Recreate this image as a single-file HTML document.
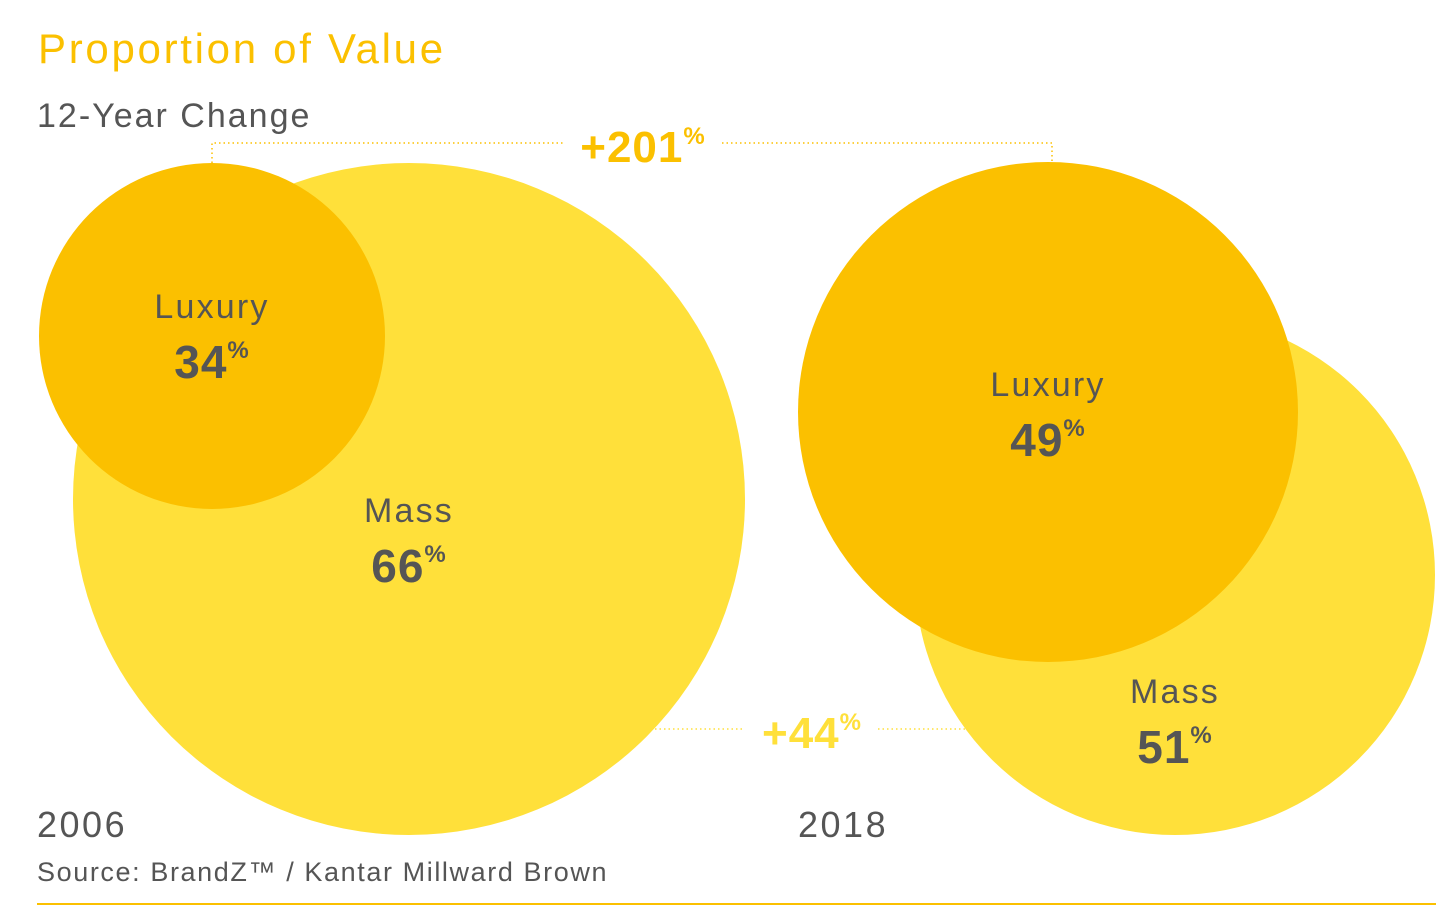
<!DOCTYPE html>
<html><head><meta charset="utf-8">
<style>
html,body{margin:0;padding:0;background:#fff;}
body{width:1436px;height:905px;overflow:hidden;position:relative;font-family:"Liberation Sans",sans-serif;}
svg{position:absolute;left:0;top:0;}
</style></head>
<body>
<svg id="chart" width="1436" height="905">
  <text x="38" y="63" font-size="42" letter-spacing="2.7" fill="#FBC000">Proportion of Value</text>
  <text x="37" y="127" font-size="34" letter-spacing="2" fill="#555">12-Year Change</text>
  <text x="37" y="837" font-size="36" letter-spacing="2.5" fill="#555">2006</text>
  <text x="798" y="837" font-size="36" letter-spacing="2.5" fill="#555">2018</text>
  <text x="37" y="881" font-size="27" letter-spacing="1.6" fill="#555">Source: BrandZ™ / Kantar Millward Brown</text>
  <line x1="37" y1="904" x2="1436" y2="904" stroke="#FBC000" stroke-width="2"/>
  <g id="marks"></g>
</svg>
<script>
const years = ['2006','2018'];
const segments = ['Luxury','Mass'];
const shares2006 = [34, 66];
const shares2018 = [49, 51];
const growthLabels = ['+201', '+44'];

const NS='http://www.w3.org/2000/svg';
const g=document.getElementById('marks');
function mk(tag,attrs,parent){const e=document.createElementNS(NS,tag);for(const k in attrs)e.setAttribute(k,attrs[k]);(parent||g).appendChild(e);return e;}
const layout={
  '2006':{Luxury:{cx:212,cy:336,r:173},Mass:{cx:409,cy:499,r:336}},
  '2018':{Luxury:{cx:1048,cy:412,r:250},Mass:{cx:1175,cy:575,r:260}}
};
const colors={Luxury:'#FBC000',Mass:'#FFE03A'};
const labelPos={
  '2006':{Luxury:[212,318],Mass:[409,522]},
  '2018':{Luxury:[1048,396],Mass:[1175,703]}
};
const dot={stroke:'#FBC000','stroke-width':1.5,'stroke-dasharray':'1.5 3',fill:'none'};
let p=mk('path',Object.assign({d:'M212 163 V143 H565 M722 143 H1052 V163'},dot));


p=mk('path',Object.assign({d:'M655 729 H745 M878 729 H965'},dot,{stroke:'#FFE03A'}));


function growth(x,y,val,color,name){
  const t=mk('text',{x:x,y:y,'font-size':44,'font-weight':'bold',fill:color,'text-anchor':'middle','letter-spacing':1});
  
  
  t.textContent=val;
  const s=mk('tspan',{'font-size':24,dy:-18},t);s.textContent='%';
}
growth(643,162,growthLabels[0],'#FBC000','luxury-growth-label');
growth(812,748,growthLabels[1],'#FFE03A','mass-growth-label');

years.forEach((y,yi)=>{
  const shares=yi===0?shares2006:shares2018;
  ['Mass','Luxury'].forEach(seg=>{
    const L=layout[y][seg];
    const c=mk('circle',{cx:L.cx,cy:L.cy,r:L.r,fill:colors[seg]});
    
    
  });
  segments.forEach((seg,si)=>{
    const [x,ly]=labelPos[y][seg];
    const t=mk('text',{x:x,y:ly,'font-size':34,fill:'#555','text-anchor':'middle','letter-spacing':2.2});
    
    
    t.textContent=seg;
    const v=mk('text',{x:x,y:ly+60,'font-size':46,'font-weight':'bold',fill:'#555','text-anchor':'middle','letter-spacing':1});
    
    
    v.textContent=shares[si];
    const s=mk('tspan',{'font-size':24,dy:-20},v);s.textContent='%';
  });
});
</script>
</body></html>
